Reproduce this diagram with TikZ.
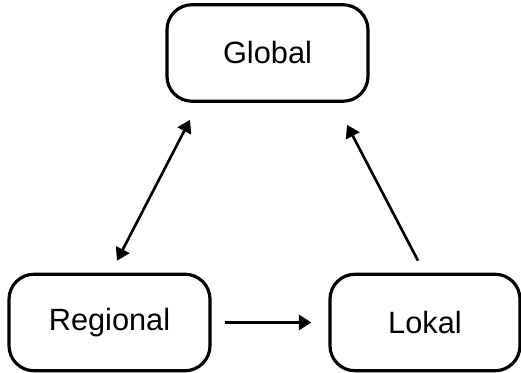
\documentclass[tikz,border=0pt]{standalone}
\usepackage{fontspec}
\setmainfont{Liberation Sans}
\usetikzlibrary{arrows.meta}
\tikzset{
  ebene/.style={draw,line width=1.8pt,rounded corners=0.5cm,minimum height=1.93cm,
    font=\fontsize{17.5}{21}\selectfont},
  spitze/.style={Triangle[length=0.25cm,width=0.30cm]},
  pfeil/.style={line width=1.5pt,-{Triangle[length=0.25cm,width=0.30cm]}}
}
\begin{document}
\begin{tikzpicture}
    \useasboundingbox (0,0) rectangle (10.42,7.46);
    % Knoten
    \node[ebene,minimum width=4.02cm] (global) at (5.35,6.40) {Global};
    \node[ebene,minimum width=4.02cm] (regional) at (2.19,1.01) {Regional};
    \node[ebene,minimum width=3.80cm] (lokal) at (8.50,1.01) {Lokal};
    % Pfeile
    \draw[pfeil,{Triangle[length=0.25cm,width=0.30cm]}-{Triangle[length=0.25cm,width=0.30cm]}]
      ([shift={(0.15,0.24)}]regional.north) -- ([shift={(-1.55,-0.34)}]global.south);
    \draw[pfeil,shorten <=0.26cm,shorten >=0.34cm] (regional.east) -- (lokal.west);
    \draw[pfeil] ([shift={(-0.14,0.24)}]lokal.north) -- ([shift={(1.59,-0.44)}]global.south);
  \end{tikzpicture}
\end{document}
